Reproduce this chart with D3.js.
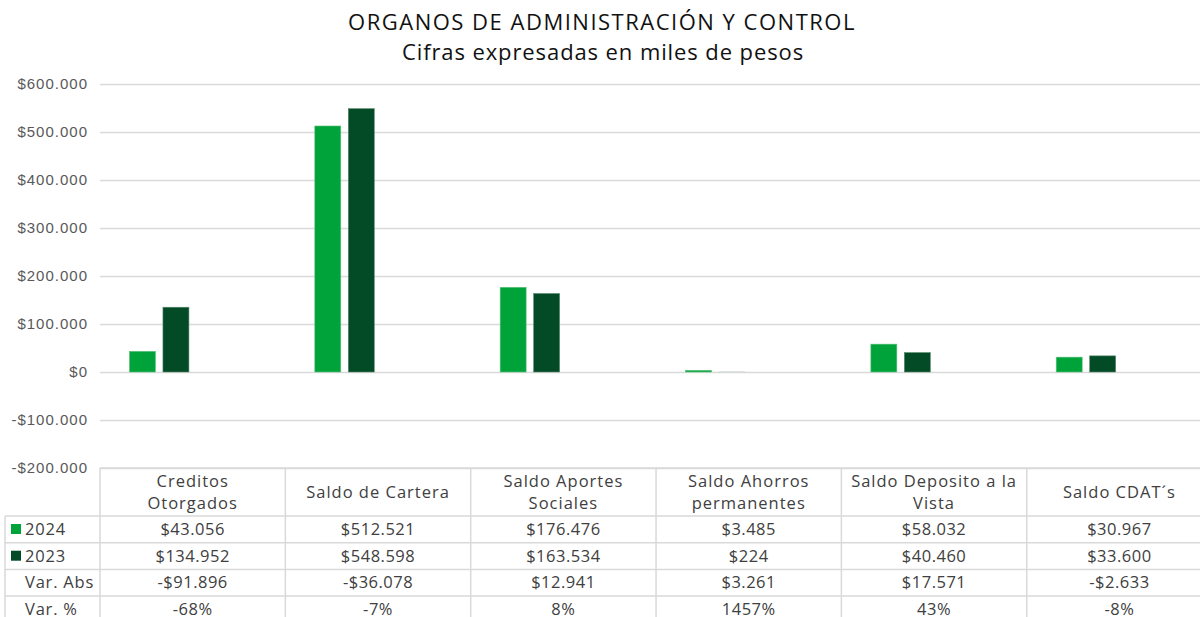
<!DOCTYPE html>
<html>
<head>
<meta charset="utf-8">
<script src="https://cdn.jsdelivr.net/npm/d3@7"></script>
<style>
  body { margin: 0; background: #fff; }
  svg { font-family: "Open Sans", sans-serif; }
</style>
</head>
<body>
<svg id="chart" width="1200" height="617"></svg>
<script>
// data
const categories = [
  ["Creditos", "Otorgados"],
  ["Saldo de Cartera"],
  ["Saldo Aportes", "Sociales"],
  ["Saldo Ahorros", "permanentes"],
  ["Saldo Deposito a la", "Vista"],
  ["Saldo CDAT´s"]
]
const values2024 = [43056, 512521, 176476, 3485, 58032, 30967]
const values2023 = [134952, 548598, 163534, 224, 40460, 33600]
const varAbs = [-91896, -36078, 12941, 3261, 17571, -2633]
const varPct = [-68, -7, 8, 1457, 43, -8]
const yTicks = [-200000, -100000, 0, 100000, 200000, 300000, 400000, 500000, 600000]
// Excel keeps 4 series slots per group, only the two years are filled
const seriesSlots = ["2024", "2023", "Var. Abs", "Var. %"]

const colors = {"2024": "#00A339", "2023": "#024B26"}

const locale = d3.formatLocale({decimal: ",", thousands: ".", grouping: [3], currency: ["$", ""], minus: "-"})
const money = locale.format("$,.0f")

const svg = d3.select("#chart")

const left = 100, catW = 185.35
const x0 = d3.scaleBand()
    .domain(d3.range(categories.length))
    .range([left, left + catW * categories.length])
const x1 = d3.scaleBand()
    .domain(seriesSlots)
    .range([0, x0.bandwidth()])
    .paddingInner(0.224)
    .paddingOuter(0.88)
const y = d3.scaleLinear()
    .domain([-200000, 600000])
    .range([468, 84])

// title
svg.append("text")
    .attr("x", 602).attr("y", 30)
    .attr("text-anchor", "middle")
    .style("font-size", "22px").style("fill", "#111").style("letter-spacing", "1.5px")
    .text("ORGANOS DE ADMINISTRACIÓN Y CONTROL")
svg.append("text")
    .attr("x", 603).attr("y", 60)
    .attr("text-anchor", "middle")
    .style("font-size", "22px").style("fill", "#111").style("letter-spacing", "0.9px")
    .text("Cifras expresadas en miles de pesos")

// gridlines + y labels
svg.append("g")
    .attr("transform", "translate(" + left + ",0)")
    .call(d3.axisLeft(y).tickValues(yTicks).tickFormat(money).tickSize(-1200).tickPadding(12))
    .call(g => g.select(".domain").remove())
    .call(g => g.selectAll(".tick line").attr("stroke", "#d9d9d9").attr("stroke-width", 1.5))
    .call(g => g.selectAll(".tick text").attr("fill", "#595959").style("font-size", "15px")
        .style("letter-spacing", "1px").attr("dy", "0.28em"))

// bars
const series = [["2024", values2024], ["2023", values2023]]
series.forEach(([key, vals]) => {
    svg.append("g")
        .selectAll("rect")
        .data(vals)
        .enter()
        .append("rect")
        .attr("x", (d, i) => x0(i) + x1(key))
        .attr("width", x1.bandwidth())
        .attr("y", d => y(Math.max(d, 0)))
        .attr("height", d => Math.abs(y(d) - y(0)))
        .attr("fill", colors[key])
        .attr("stroke", key === "2024" ? "#5fc27f" : "#5a8a6c")
        .attr("stroke-width", d => Math.abs(y(d) - y(0)) < 1 ? 0 : 0.6)
})

// data table
const tableTop = 468, headH = 48, rowH = 26.7
const rowLabels = ["2024", "2023", "Var. Abs", "Var. %"]
const pct = d => d + "%"
const rows = [values2024.map(money), values2023.map(money), varAbs.map(money), varPct.map(pct)]
const tbl = svg.append("g")
const lineColor = "#d9d9d9"
const rightEdge = 1200

// horizontal lines
tbl.append("line").attr("x1", left).attr("x2", rightEdge).attr("y1", tableTop).attr("y2", tableTop)
    .attr("stroke", lineColor).attr("stroke-width", 1.5)
d3.range(rows.length + 1).forEach(r => {
    const yy = tableTop + headH + r * rowH
    tbl.append("line").attr("x1", 5).attr("x2", rightEdge).attr("y1", yy).attr("y2", yy)
        .attr("stroke", lineColor).attr("stroke-width", 1.5)
})
// vertical lines
tbl.append("line").attr("x1", 5).attr("x2", 5).attr("y1", tableTop + headH).attr("y2", 617)
    .attr("stroke", lineColor).attr("stroke-width", 1.5)
d3.range(categories.length + 1).forEach(i => {
    const xx = left + i * catW
    tbl.append("line").attr("x1", xx).attr("x2", xx).attr("y1", tableTop).attr("y2", 617)
        .attr("stroke", lineColor).attr("stroke-width", 1.5)
})

// header text
categories.forEach((lines, i) => {
    const cx = x0(i) + x0.bandwidth() / 2
    const t = tbl.append("text")
        .attr("x", cx)
        .attr("text-anchor", "middle")
        .style("font-size", "16.5px").style("fill", "#404040").style("letter-spacing", "1px")
    const start = lines.length === 2 ? tableTop + 19 : tableTop + 30
    lines.forEach((ln, k) => {
        t.append("tspan").attr("x", cx).attr("y", start + k * 22).text(ln)
    })
})

// rows
rows.forEach((vals, r) => {
    const baseY = tableTop + headH + r * rowH + 19
    const label = rowLabels[r]
    if (colors[label]) {
        tbl.append("rect").attr("x", 11).attr("y", baseY - 11).attr("width", 10).attr("height", 10)
            .attr("fill", colors[label])
    }
    tbl.append("text").attr("x", 25).attr("y", baseY)
        .style("font-size", "16.5px").style("fill", "#404040").style("letter-spacing", "0.8px")
        .text(label)
    vals.forEach((v, i) => {
        tbl.append("text")
            .attr("x", x0(i) + x0.bandwidth() / 2)
            .attr("y", baseY)
            .attr("text-anchor", "middle")
            .style("font-size", "16.5px").style("fill", "#404040").style("letter-spacing", "0.5px")
            .text(v)
    })
})
</script>
</body>
</html>
